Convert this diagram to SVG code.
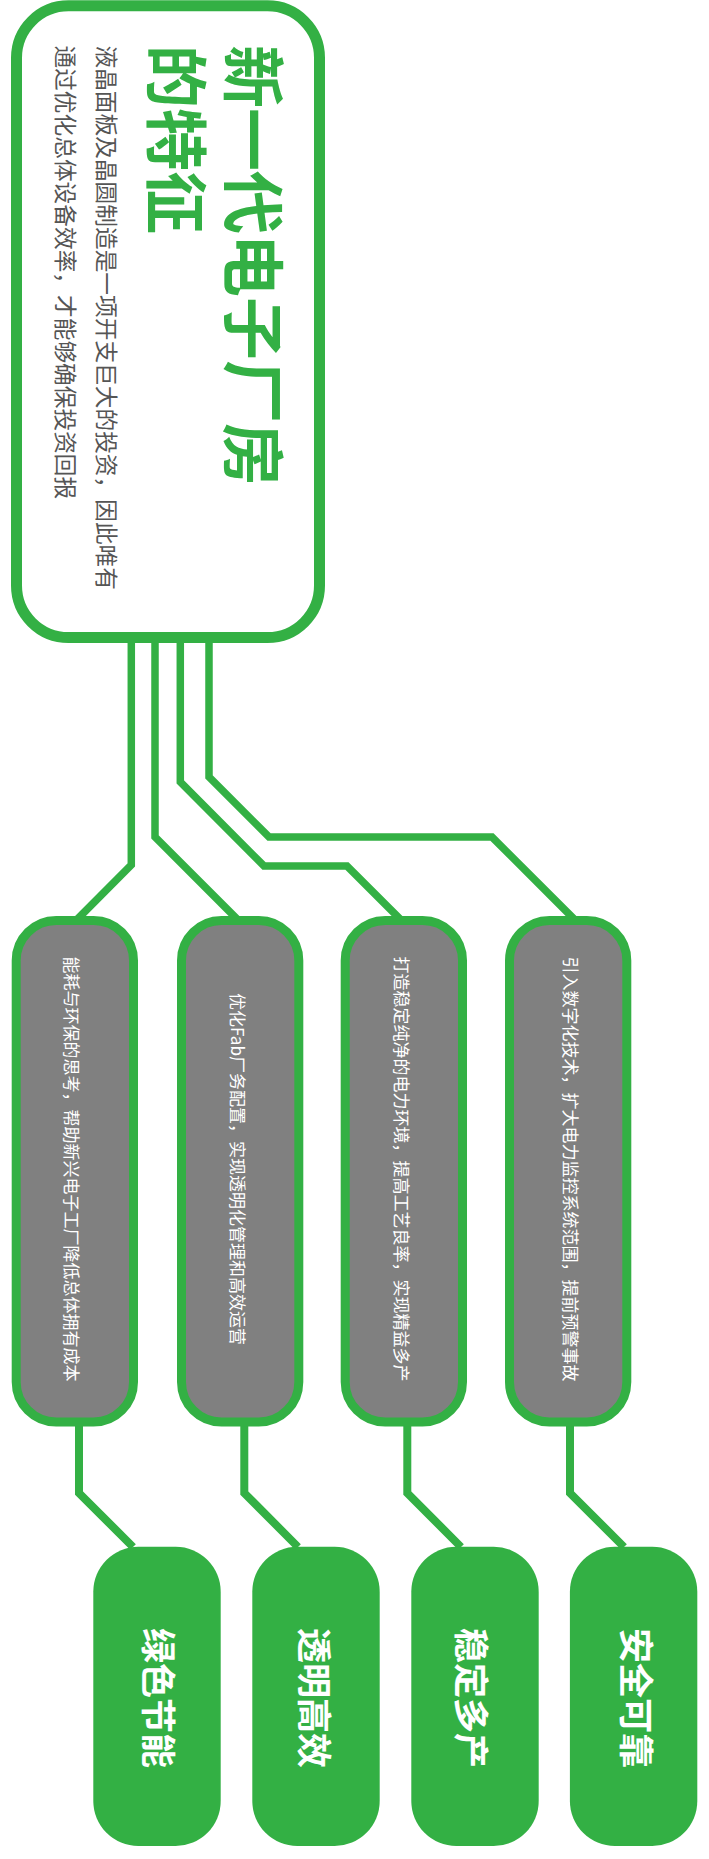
<svg xmlns="http://www.w3.org/2000/svg" width="709" height="1859" viewBox="0 0 709 1859">
<style>
.conn{fill:none;stroke:#33B044;stroke-width:7.5;stroke-linejoin:miter;stroke-linecap:butt}
.main{fill:#FFFFFF;stroke:#33B044;stroke-width:11}
.gbox{fill:#808080;stroke:#33B044;stroke-width:9}
.leaf{fill:#33B044}
.title{font-family:"Noto Sans CJK SC","Noto Sans",sans-serif;font-weight:bold;font-size:63px;fill:#33B044;dominant-baseline:central}
.sub{font-family:"Noto Sans CJK SC","Noto Sans",sans-serif;font-size:22.7px;fill:#555555;dominant-baseline:central}
.gt{font-family:"Noto Sans CJK SC","Noto Sans",sans-serif;font-size:17px;fill:#FFFFFF;dominant-baseline:central;text-anchor:middle}
.lt{font-family:"Noto Sans CJK SC","Noto Sans",sans-serif;font-weight:bold;font-size:35px;fill:#FFFFFF;dominant-baseline:central;text-anchor:middle}
</style>
<g id="connectors">
<path class="conn" d="M131.3 640 V865 L77 919.5"/>
<path class="conn" d="M155 640 V837 L238 920"/>
<path class="conn" d="M180.3 640 V782 L264 866 H347 L401 920"/>
<path class="conn" d="M209 640 V777 L269 837 H492 L575 920"/>
<path class="conn" style="stroke-width:8" d="M79 1425 V1493 L133 1547"/>
<path class="conn" style="stroke-width:8" d="M244.3 1425 V1493 L298 1547"/>
<path class="conn" style="stroke-width:8" d="M407.3 1425 V1493 L461 1547"/>
<path class="conn" style="stroke-width:8" d="M570 1425 V1493 L624 1547"/>
</g>
<g id="main">
<rect class="main" x="16.5" y="5.8" width="303" height="631.7" rx="52" ry="52"/>
<text class="title" transform="translate(257,45) rotate(90)">新一代电子厂房</text>
<text class="title" transform="translate(180.5,45) rotate(90)">的特征</text>
<text class="sub" transform="translate(107.5,45.5) rotate(90)">液晶面板及晶圆制造是一项开支巨大的投资，因此唯有</text>
<text class="sub" transform="translate(66.7,45.5) rotate(90)">通过优化总体设备效率，才能够确保投资回报</text>
</g>
<g id="desc1">
<rect class="gbox" x="16.2" y="920.5" width="117.3" height="501.5" rx="40" ry="40"/>
<text class="gt" transform="translate(72.5,1169) rotate(90)">能耗与环保的思考，帮助新兴电子工厂降低总体拥有成本</text>
</g>
<g id="desc2">
<rect class="gbox" x="181.5" y="920.5" width="117.3" height="501.5" rx="40" ry="40"/>
<text class="gt" transform="translate(238.5,1169) rotate(90)">优化Fab厂务配置，实现透明化管理和高效运营</text>
</g>
<g id="desc3">
<rect class="gbox" x="345.2" y="920.5" width="117.3" height="501.5" rx="40" ry="40"/>
<text class="gt" transform="translate(402.5,1169) rotate(90)">打造稳定纯净的电力环境，提高工艺良率，实现精益多产</text>
</g>
<g id="desc4">
<rect class="gbox" x="509.5" y="920.5" width="117.3" height="501.5" rx="40" ry="40"/>
<text class="gt" transform="translate(571.5,1169) rotate(90)">引入数字化技术，扩大电力监控系统范围，提前预警事故</text>
</g>
<g id="leaf1">
<rect class="leaf" x="93.3" y="1546.7" width="127.4" height="299.3" rx="45" ry="45"/>
<text class="lt" transform="translate(160.7,1698) rotate(90)">绿色节能</text>
</g>
<g id="leaf2">
<rect class="leaf" x="252.3" y="1546.7" width="127.4" height="299.3" rx="45" ry="45"/>
<text class="lt" transform="translate(316,1698) rotate(90)">透明高效</text>
</g>
<g id="leaf3">
<rect class="leaf" x="411.3" y="1546.7" width="127.4" height="299.3" rx="45" ry="45"/>
<text class="lt" transform="translate(473.5,1698) rotate(90)">稳定多产</text>
</g>
<g id="leaf4">
<rect class="leaf" x="569.9" y="1546.7" width="127.4" height="299.3" rx="45" ry="45"/>
<text class="lt" transform="translate(638.7,1698) rotate(90)">安全可靠</text>
</g>
</svg>
